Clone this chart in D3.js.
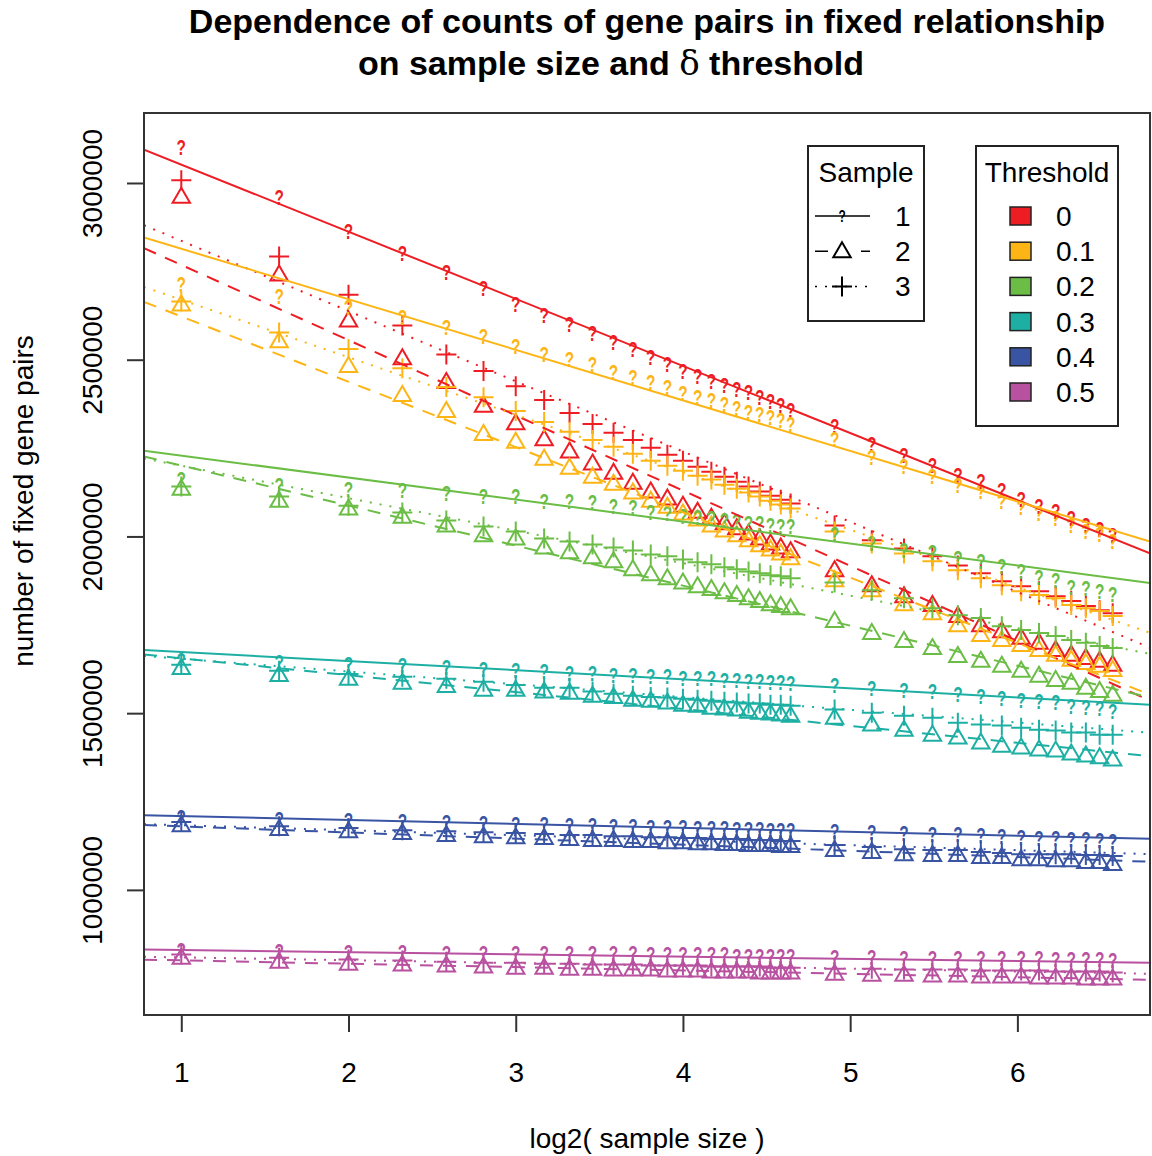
<!DOCTYPE html>
<html><head><meta charset="utf-8">
<script src="https://cdn.jsdelivr.net/npm/d3@7"></script>
<style>body{margin:0;background:#fff}</style>
</head><body>
<svg id="chart" width="1152" height="1156"></svg>
<script>
// ---------------- data ----------------
const sampleSizes = [2,3,4,5,6,7,8,9,10,11,12,13,14,15,16,17,18,19,20,21,22,23,24,25,
                     30,35,40,45,50,55,60,65,70,75,80,85,90,95];
const thresholds = ["0","0.1","0.2","0.3","0.4","0.5"];
const thresholdColors = ["#EE1D23","#FDB515","#6BBD45","#1DAFA3","#3A54A4","#B8519F"];
const samples = ["1","2","3"];
const yTicks = [1000000,1500000,2000000,2500000,3000000];
const xTicks = [1,2,3,4,5,6];

// counts of fixed gene pairs, in thousands (threshold t, sample s)
const t0_s1 = [3101,2961,2865,2803,2749,2704,2656,2625,2600,2575,2550,2530,2507,2487,2468,2454,2440,2428,2418,2408,2394,2382,2372,2358,2313,2262,2231,2203,2175,2158,2130,2107,2087,2073,2051,2031,2020,2003];
const t0_s2 = [2961,2741,2611,2504,2437,2370,2320,2275,2240,2206,2180,2152,2127,2107,2087,2070,2053,2037,2023,2008,1994,1980,1969,1958,1904,1862,1831,1806,1775,1749,1732,1713,1699,1679,1665,1656,1648,1637];
const t0_s3 = [3008,2792,2684,2597,2515,2468,2425,2386,2349,2318,2293,2273,2251,2231,2214,2197,2183,2169,2155,2141,2127,2115,2104,2093,2031,1989,1966,1944,1918,1896,1873,1859,1845,1831,1817,1803,1791,1783];
const t1_s1 = [2713,2679,2648,2620,2592,2566,2538,2515,2501,2488,2465,2451,2437,2423,2406,2394,2385,2375,2363,2352,2346,2338,2330,2318,2276,2225,2200,2172,2146,2127,2101,2084,2065,2051,2031,2014,2006,1986];
const t1_s2 = [2656,2552,2482,2400,2355,2290,2268,2220,2194,2169,2149,2124,2101,2084,2065,2048,2031,2017,2003,1989,1975,1963,1952,1938,1876,1848,1808,1783,1749,1721,1707,1693,1679,1665,1651,1642,1634,1622];
const t1_s3 = [2665,2577,2530,2476,2423,2394,2355,2324,2296,2273,2254,2234,2214,2200,2186,2172,2161,2146,2135,2124,2113,2101,2090,2079,2014,1980,1952,1930,1904,1882,1862,1845,1834,1825,1806,1797,1789,1775];
const t2_s1 = [2163,2144,2135,2130,2124,2115,2113,2101,2099,2097,2087,2084,2070,2065,2059,2056,2051,2045,2043,2039,2037,2031,2030,2028,2008,1980,1960,1955,1938,1930,1915,1901,1884,1876,1856,1853,1845,1837];
const t2_s2 = [2135,2101,2079,2056,2031,2003,1994,1969,1955,1941,1930,1907,1893,1882,1870,1859,1851,1842,1834,1825,1817,1808,1803,1797,1761,1727,1704,1684,1662,1648,1634,1620,1606,1594,1586,1572,1563,1552];
const t2_s3 = [2141,2113,2087,2068,2045,2028,2014,1994,1986,1977,1969,1960,1949,1944,1935,1927,1921,1913,1907,1901,1896,1890,1887,1882,1870,1848,1825,1797,1777,1769,1746,1735,1727,1718,1707,1699,1690,1684];
const t3_s1 = [1651,1645,1639,1637,1631,1625,1622,1620,1614,1614,1608,1608,1606,1606,1600,1600,1600,1594,1594,1592,1592,1589,1589,1586,1580,1572,1566,1563,1555,1549,1544,1538,1535,1530,1521,1518,1513,1507];
const t3_s2 = [1628,1608,1597,1586,1577,1566,1566,1561,1558,1549,1546,1538,1535,1530,1524,1521,1515,1513,1510,1504,1501,1499,1496,1493,1487,1468,1453,1439,1431,1417,1408,1403,1397,1394,1386,1380,1375,1369];
const t3_s3 = [1637,1620,1611,1603,1597,1589,1580,1572,1572,1561,1555,1549,1546,1544,1541,1538,1535,1532,1530,1527,1527,1524,1524,1521,1510,1501,1493,1487,1473,1468,1465,1459,1453,1451,1445,1445,1439,1439];
const t4_s1 = [1206,1200,1197,1195,1192,1189,1186,1186,1183,1183,1180,1180,1177,1177,1177,1175,1175,1175,1172,1172,1172,1169,1169,1169,1166,1163,1161,1158,1158,1155,1152,1149,1147,1147,1144,1144,1141,1138];
const t4_s2 = [1183,1172,1166,1161,1155,1152,1149,1147,1144,1141,1141,1138,1138,1135,1135,1132,1132,1130,1130,1127,1127,1127,1124,1124,1113,1107,1101,1099,1099,1093,1093,1087,1087,1084,1084,1079,1079,1073];
const t4_s3 = [1192,1180,1175,1169,1166,1163,1161,1158,1155,1155,1152,1152,1149,1149,1147,1147,1144,1144,1144,1141,1141,1141,1138,1138,1127,1121,1115,1113,1113,1107,1104,1101,1101,1101,1101,1099,1099,1096];
const t5_s1 = [831,828,825,825,822,822,822,820,820,820,820,820,817,817,817,817,817,817,814,814,814,814,814,814,811,811,808,808,808,806,806,806,806,803,803,803,803,800];
const t5_s2 = [808,797,791,789,786,783,780,780,777,777,775,775,775,772,772,772,769,769,769,769,766,766,766,766,763,760,760,758,758,755,755,755,752,752,752,749,749,749];
const t5_s3 = [817,808,803,800,797,794,794,791,791,789,789,789,786,786,786,786,783,783,783,783,783,780,780,780,777,777,775,775,775,772,772,772,772,769,769,769,769,766];

// fitted lines (count in thousands = intercept + slope * log2(size)), per threshold
const fitInterceptS1 = [3242,2957,2291,1699,1220,836];
const fitSlopeS1     = [-189.9,-143.0,-62.2,-25.8,-11.1,-6.2];
const fitInterceptS2 = [2981,2807,2314,1703,1197,810];
const fitSlopeS2     = [-212.8,-184.7,-113.3,-47.8,-17.3,-9.5];
const fitInterceptS3 = [3035,2832,2292,1690,1197,817];
const fitSlopeS3     = [-198.7,-162.6,-91.9,-36.1,-14.1,-8.0];

const seriesBySample = [
  [t0_s1,t1_s1,t2_s1,t3_s1,t4_s1,t5_s1],
  [t0_s2,t1_s2,t2_s2,t3_s2,t4_s2,t5_s2],
  [t0_s3,t1_s3,t2_s3,t3_s3,t4_s3,t5_s3]
];
const fitIntercepts = [fitInterceptS1,fitInterceptS2,fitInterceptS3];
const fitSlopes = [fitSlopeS1,fitSlopeS2,fitSlopeS3];

// ---------------- layout ----------------
const svg = d3.select("#chart");
svg.append("rect").attr("width",1152).attr("height",1156).attr("fill","#fff");
const L = 144, R = 1150, T = 113, B = 1015;
const x = d3.scaleLinear().domain([0.777, 6.793]).range([L, R]);
const y = d3.scaleLinear().domain([646000, 3198000]).range([B, T]);
const FONT = "'Liberation Sans', Arial, Helvetica, sans-serif";
const dashFor = ["none", "13,10", "2,8"];

svg.append("clipPath").attr("id","plotclip").append("rect")
  .attr("x",L).attr("y",T).attr("width",R-L).attr("height",B-T);

const triPath = "M0,-9L8.7,6L-8.7,6Z";
const plusPath = "M-10,0H10M0,-10V10";

function drawMarker(g, s, color, cx, cy, fs) {
  if (s === 0) {
    g.append("text").attr("transform",`translate(${cx},${cy}) scale(0.7,1)`).attr("dy","0.36em")
      .attr("text-anchor","middle").attr("font-family",FONT).attr("font-weight","bold")
      .attr("font-size",fs||22).attr("fill",color).text("?");
  } else {
    g.append("path").attr("transform",`translate(${cx},${cy})`)
      .attr("d", s===1 ? triPath : plusPath)
      .attr("fill","none").attr("stroke",color).attr("stroke-width",2);
  }
}

const plotG = svg.append("g");
// points
thresholds.forEach((t, ti) => {
  samples.forEach((sm, si) => {
    const vals = seriesBySample[si][ti];
    const g = plotG.append("g");
    vals.forEach((v, i) => {
      drawMarker(g, si, thresholdColors[ti], x(Math.log2(sampleSizes[i])), y(v*1000));
    });
  });
});
// fitted lines
const lineG = svg.append("g").attr("clip-path","url(#plotclip)");
thresholds.forEach((t, ti) => {
  samples.forEach((sm, si) => {
    const a = fitIntercepts[si][ti], b = fitSlopes[si][ti];
    const [x0, x1] = x.domain();
    lineG.append("line")
      .attr("x1", x(x0)).attr("y1", y((a + b*x0)*1000))
      .attr("x2", x(x1)).attr("y2", y((a + b*x1)*1000))
      .attr("stroke", thresholdColors[ti]).attr("stroke-width", 2)
      .attr("stroke-dasharray", dashFor[si]);
  });
});

// box
svg.append("rect").attr("x",L).attr("y",T).attr("width",R-L).attr("height",B-T)
  .attr("fill","none").attr("stroke","#333").attr("stroke-width",2);

// x axis
const xa = svg.append("g").attr("transform",`translate(0,${B})`)
  .call(d3.axisBottom(x).tickValues(xTicks).tickSize(17).tickPadding(30).tickFormat(d3.format("d")));
xa.select(".domain").remove();
xa.selectAll(".tick line").attr("stroke","#333").attr("stroke-width",2);
xa.selectAll(".tick text").attr("font-family",FONT).attr("font-size",28).attr("fill","#000");

// y axis
const ya = svg.append("g").attr("transform",`translate(${L},0)`)
  .call(d3.axisLeft(y).tickValues(yTicks).tickSize(17).tickFormat(d3.format("d")));
ya.select(".domain").remove();
ya.selectAll(".tick line").attr("stroke","#333").attr("stroke-width",2);
ya.selectAll(".tick text").remove();
ya.selectAll(".tick").append("text")
  .attr("transform","translate(-42,0) rotate(-90)")
  .attr("text-anchor","middle").attr("font-family",FONT).attr("font-size",28).attr("fill","#000")
  .text(d => d3.format("d")(d));

// axis titles
svg.append("text").attr("x",(L+R)/2).attr("y",1148).attr("text-anchor","middle")
  .attr("font-family",FONT).attr("font-size",28).text("log2( sample size )");
svg.append("text").attr("transform","translate(33,501) rotate(-90)").attr("text-anchor","middle")
  .attr("font-family",FONT).attr("font-size",28).text("number of fixed gene pairs");

// title
const title = svg.append("g").attr("font-family",FONT).attr("font-weight","bold").attr("font-size",34).attr("text-anchor","middle");
title.append("text").attr("x",(L+R)/2).attr("y",33).text("Dependence of counts of gene pairs in fixed relationship");
const t2 = title.append("text").attr("x",611).attr("y",75);
t2.append("tspan").text("on sample size and ");
t2.append("tspan").attr("font-family","'DejaVu Serif', 'Liberation Serif', serif").attr("font-weight","normal").text("δ");
t2.append("tspan").text(" threshold");

// legend: Sample
const lg1 = svg.append("g");
lg1.append("rect").attr("x",808).attr("y",146).attr("width",116).attr("height",175)
  .attr("fill","#fff").attr("stroke","#222").attr("stroke-width",2);
lg1.append("text").attr("x",866).attr("y",182).attr("text-anchor","middle")
  .attr("font-family",FONT).attr("font-size",28).text("Sample");
samples.forEach((sm, si) => {
  const cy = 216 + si*35.2;
  lg1.append("line").attr("x1",815).attr("x2",870).attr("y1",cy).attr("y2",cy)
    .attr("stroke","#000").attr("stroke-width",1.5).attr("stroke-dasharray",dashFor[si]);
  if (si===1) lg1.append("rect").attr("x",832).attr("y",cy-10).attr("width",20).attr("height",18).attr("fill","#fff");
  drawMarker(lg1, si, "#000", 842, cy, 17);
  lg1.append("text").attr("x",895).attr("y",cy+10).attr("font-family",FONT).attr("font-size",28).text(sm);
});

// legend: Threshold
const lg2 = svg.append("g");
lg2.append("rect").attr("x",976).attr("y",146).attr("width",142).attr("height",280)
  .attr("fill","#fff").attr("stroke","#222").attr("stroke-width",2);
lg2.append("text").attr("x",1047).attr("y",182).attr("text-anchor","middle")
  .attr("font-family",FONT).attr("font-size",28).text("Threshold");
thresholds.forEach((t, ti) => {
  const cy = 216 + ti*35.2;
  lg2.append("rect").attr("x",1010).attr("y",cy-9).attr("width",21).attr("height",18)
    .attr("fill",thresholdColors[ti]).attr("stroke","#222").attr("stroke-width",1.5);
  lg2.append("text").attr("x",1056).attr("y",cy+10).attr("font-family",FONT).attr("font-size",28).text(t);
});
</script>
</body></html>
